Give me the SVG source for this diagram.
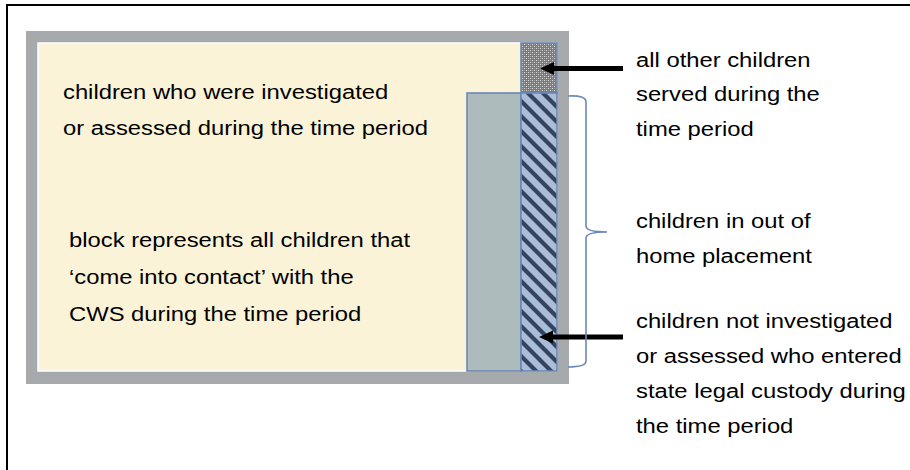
<svg xmlns="http://www.w3.org/2000/svg" width="910" height="470" viewBox="0 0 910 470">
<style>
  .t { font-family: "Liberation Sans", Arial, sans-serif; font-size: 20px; fill: #000; }
  .edge { stroke: #6b88b6; stroke-width: 1.6; }
  .arrow { stroke: #000; stroke-width: 5; fill: none; }
</style>
<defs>
  <pattern id="stipple" width="4" height="4" patternUnits="userSpaceOnUse">
    <rect width="4" height="4" fill="#7a7a7a"/>
    <rect x="0" y="0" width="1" height="1" fill="#dcdcdc"/>
    <rect x="2" y="2" width="1" height="1" fill="#dcdcdc"/>
    <rect x="2" y="0" width="1" height="1" fill="#a8a8a8"/>
    <rect x="0" y="2" width="1" height="1" fill="#a8a8a8"/>
  </pattern>
  <pattern id="hatch" width="15" height="15" patternUnits="userSpaceOnUse">
    <rect width="15" height="15" fill="#a9bcd8"/>
    <path d="M-4,-4 L19,19 M-4,11 L4,19 M11,-4 L19,4" stroke="#34435f" stroke-width="4.2"/>
  </pattern>
</defs>

<g id="outer-border">
  <path d="M7,470 L7,5 L910,5" fill="none" stroke="#000" stroke-width="2"/>
</g>

<g id="cws-block">
  <rect x="26" y="31" width="543" height="353" fill="#a7aaad"/>
  <rect x="38" y="43" width="519" height="328" fill="#faf3d8" stroke="#ffffff" stroke-width="1.5"/>
  <text class="t" transform="translate(63,99) scale(1.19,1)"><tspan x="0" y="0">children who were investigated</tspan><tspan x="0" y="36">or assessed during the time period</tspan></text>
  <text class="t" transform="translate(69,247) scale(1.19,1)"><tspan x="0" y="0">block represents all children that</tspan><tspan x="0" y="37">‘come into contact’ with the</tspan><tspan x="0" y="74">CWS during the time period</tspan></text>
</g>

<g id="other-children">
  <rect x="521" y="43" width="36" height="50" fill="url(#stipple)" class="edge"/>
</g>

<g id="out-of-home">
  <rect x="467" y="93" width="54" height="278" fill="#adbbbd" class="edge"/>
</g>

<g id="not-investigated">
  <rect x="521" y="93" width="36" height="278" fill="url(#hatch)" class="edge"/>
</g>

<g id="labels">
  <text class="t" transform="translate(636,67) scale(1.19,1)"><tspan x="0" y="0">all other children</tspan><tspan x="0" y="34.5">served during the</tspan><tspan x="0" y="69">time period</tspan></text>
  <text class="t" transform="translate(636,228) scale(1.19,1)"><tspan x="0" y="0">children in out of</tspan><tspan x="0" y="35">home placement</tspan></text>
  <text class="t" transform="translate(636,328) scale(1.19,1)"><tspan x="0" y="0">children not investigated</tspan><tspan x="0" y="35">or assessed who entered</tspan><tspan x="0" y="70">state legal custody during</tspan><tspan x="0" y="105">the time period</tspan></text>
</g>

<g id="connectors">
  <path d="M623,68.5 L553,68.5" class="arrow"/>
  <path d="M540,68.5 L554,62 L554,75 Z" fill="#000"/>
  <path d="M623,337 L553,337" class="arrow"/>
  <path d="M539,337 L553,330.5 L553,343.5 Z" fill="#000"/>
  <path d="M568,96 Q586,95 586,102 L586,226 Q586,232 607,232 Q586,232 586,238 L586,361 Q586,367 568,367" fill="none" class="edge"/>
</g>
</svg>
